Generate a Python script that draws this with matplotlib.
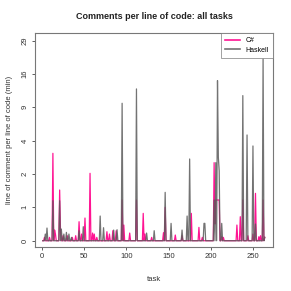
import numpy as np
import matplotlib
matplotlib.use('Agg')
import matplotlib.pyplot as plt

# y axis is a stretched scale, ticks evenly spaced with these labels
ytick_vals = [0, 1, 2, 4, 9, 16, 29]
xtick_vals = [0, 50, 100, 150, 200, 250]
n_tasks = 264

# non-zero points (task, comments per line)
cs_tasks = [3, 9, 13, 15, 16, 21, 22, 25, 30, 36, 40, 44, 47, 51, 57, 60, 62, 65,
            77, 80, 84, 88, 95, 97, 104, 112, 120, 122, 130, 144, 146, 158, 166,
            177, 186, 190, 204, 205, 206, 207, 208, 209, 210, 213, 215, 231, 235,
            238, 244, 250, 253, 257, 259, 262, 264]
cs_vals = [0.1, 0.1, 3.24, 0.32, 0.2, 1.52, 0.3, 0.15, 0.15, 0.1, 0.15, 0.57, 0.2,
           0.68, 2.04, 0.23, 0.2, 0.1, 0.27, 0.2, 0.3, 0.3, 1.22, 0.47, 0.23, 1.22,
           0.82, 0.2, 0.1, 0.24, 1.0, 0.17, 0.15, 0.82, 0.4, 0.1, 2.68, 0.5, 1.22,
           1.22, 1.22, 1.22, 1.22, 0.12, 0.1, 0.47, 0.72, 1.22, 0.15, 0.2, 1.42,
           0.12, 0.15, 1.22, 0.1]

hs_tasks = [4, 6, 13, 21, 23, 26, 29, 32, 35, 44, 49, 69, 73, 85, 89, 95, 112, 124,
            133, 146, 153, 166, 172, 175, 192, 193, 204, 206, 208, 209, 210, 213,
            238, 243, 250, 253, 262, 264]
hs_vals = [0.2, 0.38, 1.2, 1.2, 0.35, 0.2, 0.25, 0.2, 0.1, 0.3, 0.42, 0.74, 0.39,
           0.32, 0.33, 9.84, 12.85, 0.23, 0.3, 1.45, 0.52, 0.32, 0.74, 2.9, 0.52,
           0.52, 1.22, 2.68, 14.6, 3.0, 2.2, 0.52, 11.45, 4.85, 3.68, 0.5, 21.85, 0.1]

tasks = np.arange(1, n_tasks + 1)
cs = np.zeros(n_tasks)
cs[np.array(cs_tasks) - 1] = cs_vals
hs = np.zeros(n_tasks)
hs[np.array(hs_tasks) - 1] = hs_vals

# piecewise-linear scale through the tick labels, extended linearly at both ends
tv = np.array([-100.0] + ytick_vals + [29 + 13 * 100.0])
tp = np.array([-100.0] + list(range(len(ytick_vals))) + [6 + 100.0])

def fwd(v):
    return np.interp(v, tv, tp)

def inv(p):
    return np.interp(p, tp, tv)

plt.rcParams['font.family'] = ['Liberation Sans', 'DejaVu Sans']
fig = plt.figure(figsize=(2.91, 2.91), dpi=100)
ax = fig.add_axes([0.120, 0.151, 0.818, 0.736])
ax.set_yscale('function', functions=(fwd, inv))

ax.plot(tasks, cs, color='#ff1493', lw=0.9, label='C#')
ax.plot(tasks, hs, color='#5a5a5a', lw=0.9, alpha=0.85, label='Haskell')

ax.set_xlim(-8.3, 273.7)
ax.set_ylim(inv(-0.19), inv(6.23))
ax.set_xticks(xtick_vals)
ax.set_yticks(ytick_vals)
ax.set_yticklabels([str(v) for v in ytick_vals], rotation=90, va='center')
ax.tick_params(labelsize=5.5, length=2.5, width=0.6, color='#444444',
               labelcolor='#333333', pad=2)
for s in ax.spines.values():
    s.set_color('#777777')
    s.set_linewidth(0.8)

ax.set_title('Comments per line of code: all tasks', fontsize=6.5,
             fontweight='bold', color='#222222', pad=10)
ax.set_xlabel('task', fontsize=5.5, color='#333333', labelpad=11)
ax.set_ylabel('line of comment per line of code (min)', fontsize=5.5,
              color='#333333', labelpad=6)

leg = ax.legend(loc='upper right', fontsize=5, frameon=True, fancybox=False,
                borderaxespad=0, handlelength=2.2, borderpad=0.6,
                labelspacing=0.4, handletextpad=0.8)
leg.get_frame().set_edgecolor('#777777')
leg.get_frame().set_linewidth(0.6)
for line in leg.get_lines():
    line.set_linewidth(1.2)

fig.savefig('out.png', dpi=100)
